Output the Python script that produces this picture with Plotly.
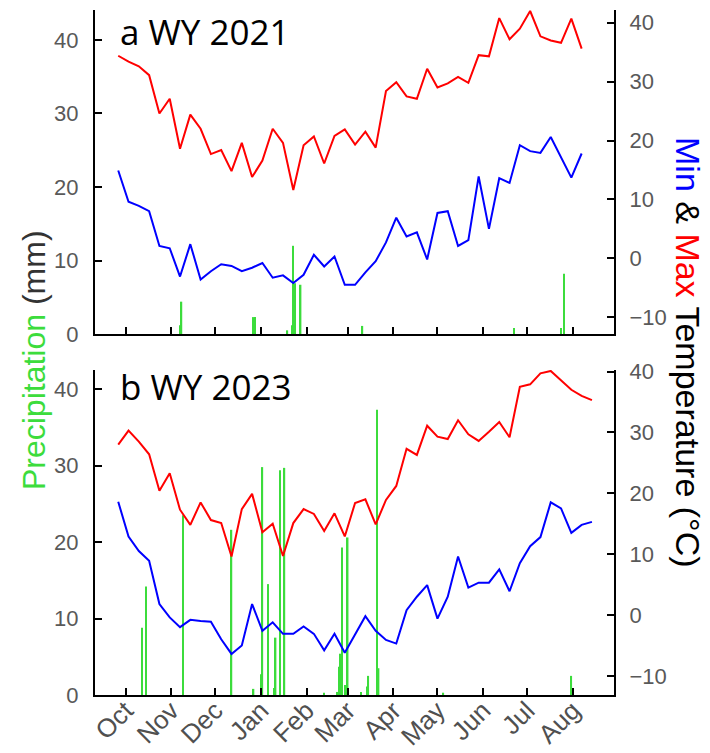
import plotly.graph_objects as go
import pandas as pd

# ---------------- data ----------------
months = ["Oct", "Nov", "Dec", "Jan", "Feb", "Mar", "Apr", "May", "Jun", "Jul", "Aug"]
top_month_ticks = ["2020-10-01", "2020-11-01", "2020-12-01", "2021-01-01", "2021-02-01", "2021-03-01",
                   "2021-04-01", "2021-05-01", "2021-06-01", "2021-07-01", "2021-08-01"]
bot_month_ticks = ["2022-10-01", "2022-11-01", "2022-12-01", "2023-01-01", "2023-02-01", "2023-03-01",
                   "2023-04-01", "2023-05-01", "2023-06-01", "2023-07-01", "2023-08-01"]

# WY 2021 weekly temperatures (deg C)
top_start = "2020-09-26"
top_tmax = [34.4, 33.4, 32.6, 31.1, 24.6, 27.1, 18.6, 24.4, 22.0, 17.7,
            18.4, 14.8, 19.6, 13.8, 16.6, 22.0, 19.6, 11.6, 19.2, 20.7,
            16.1, 20.8, 21.9, 19.3, 21.5, 18.8, 28.4, 29.9, 27.5, 27.1,
            32.2, 29.0, 29.7, 30.8, 29.8, 34.5, 34.3, 40.8, 37.2, 39.0,
            42.0, 37.7, 37.0, 36.6, 40.7, 35.6]
top_tmin = [14.9, 9.6, 8.9, 8.0, 2.1, 1.7, -3.1, 2.4, -3.6, -2.2,
            -1.0, -1.3, -2.2, -1.6, -0.8, -3.3, -2.9, -4.2, -2.8, 0.6,
            -1.4, 0.3, -4.5, -4.5, -2.4, -0.5, 2.7, 6.9, 3.7, 4.4,
            -0.2, 7.7, 8.0, 2.1, 3.1, 13.9, 5.0, 13.6, 12.8, 19.2,
            18.2, 17.9, 20.6, 17.1, 13.7, 17.8]
# WY 2021 daily precipitation (mm)
top_p_dates = ["2020-11-07", "2020-11-08", "2020-12-27", "2020-12-28", "2021-01-19", "2021-01-22",
               "2021-01-23", "2021-01-24", "2021-01-28", "2021-03-11", "2021-06-22", "2021-07-24",
               "2021-07-26"]
top_p_mm = [1.2, 4.4, 2.3, 2.3, 0.5, 1.2, 12.0, 6.9, 6.7, 1.1, 0.8, 0.8, 8.2]

# WY 2023 weekly temperatures (deg C)
bot_start = "2022-09-26"
bot_tmax = [28.0, 30.3, 28.5, 26.4, 20.4, 23.3, 17.3, 14.8, 18.5, 15.6,
            15.1, 9.6, 17.4, 19.9, 13.6, 15.0, 9.7, 15.1, 17.4, 16.6,
            13.8, 16.7, 12.9, 18.4, 19.0, 14.9, 18.9, 21.2, 27.3, 26.3,
            31.1, 29.3, 28.9, 32.0, 29.7, 28.6, 30.1, 31.7, 29.2, 37.5,
            37.9, 39.7, 40.1, 38.6, 37.0, 36.0, 35.3]
bot_tmin = [18.6, 12.9, 10.5, 8.9, 1.8, -0.4, -2.0, -0.8, -1.0, -1.1,
            -4.0, -6.4, -5.0, 1.8, -2.6, -1.2, -3.1, -3.1, -1.9, -3.1,
            -5.8, -3.1, -6.2, -3.3, -0.2, -2.6, -4.1, -4.7, 0.8, 3.0,
            4.9, -0.6, 3.0, 9.6, 4.5, 5.3, 5.3, 7.5, 3.9, 8.5,
            11.3, 12.8, 18.5, 17.5, 13.5, 14.8, 15.3]
# WY 2023 daily precipitation (mm)
bot_p_dates = ["2022-10-12", "2022-10-15", "2022-11-09", "2022-12-12", "2022-12-27", "2023-01-01",
               "2023-01-02", "2023-01-06", "2023-01-10", "2023-01-11", "2023-01-14", "2023-01-17",
               "2023-02-13", "2023-02-22", "2023-02-23", "2023-02-24", "2023-02-25", "2023-02-27",
               "2023-03-01", "2023-03-10", "2023-03-14", "2023-03-15", "2023-03-21", "2023-03-22",
               "2023-05-05", "2023-07-31"]
bot_p_mm = [8.8, 14.2, 23.5, 21.6, 0.8, 2.7, 29.8, 14.5, 0.9, 7.5, 29.4, 29.7,
            0.3, 0.4, 3.7, 5.4, 19.3, 1.3, 20.6, 0.4, 1.1, 2.5, 37.3, 3.5, 0.3, 2.5]

mm_ticks = [0, 10, 20, 30, 40]
t_ticks = [-10, 0, 10, 20, 30, 40]

# ---------------- styling ----------------
GREEN = "#3cdc3c"
DAY_MS = 86400000
TICK_FONT = dict(family="Liberation Sans, Arial, sans-serif", size=22, color="#595959")
MONTH_FONT = dict(family="Liberation Sans, Arial, sans-serif", size=26, color="#505050")

top_dates = pd.date_range(top_start, periods=len(top_tmax), freq="7D")
bot_dates = pd.date_range(bot_start, periods=len(bot_tmax), freq="7D")

fig = go.Figure()
# top panel
fig.add_trace(go.Bar(x=top_p_dates, y=top_p_mm, xaxis="x2", yaxis="y3", width=DAY_MS,
                     marker=dict(color=GREEN, line=dict(width=0))))
fig.add_trace(go.Scatter(x=top_dates, y=top_tmax, xaxis="x2", yaxis="y4", mode="lines",
                         line=dict(color="#ff0000", width=2)))
fig.add_trace(go.Scatter(x=top_dates, y=top_tmin, xaxis="x2", yaxis="y4", mode="lines",
                         line=dict(color="#0000ff", width=2)))
# bottom panel
fig.add_trace(go.Bar(x=bot_p_dates, y=bot_p_mm, xaxis="x", yaxis="y", width=DAY_MS,
                     marker=dict(color=GREEN, line=dict(width=0))))
fig.add_trace(go.Scatter(x=bot_dates, y=bot_tmax, xaxis="x", yaxis="y2", mode="lines",
                         line=dict(color="#ff0000", width=2)))
fig.add_trace(go.Scatter(x=bot_dates, y=bot_tmin, xaxis="x", yaxis="y2", mode="lines",
                         line=dict(color="#0000ff", width=2)))

axis_common = dict(showline=True, linewidth=2, linecolor="black", ticks="inside", ticklen=7,
                   tickwidth=2, tickcolor="black", showgrid=False, zeroline=False,
                   automargin=False)

fig.update_layout(
    width=710, height=753,
    margin=dict(l=95, r=96, t=10, b=58, autoexpand=False),
    paper_bgcolor="white", plot_bgcolor="white",
    showlegend=False, barmode="overlay",
    font=dict(family="Liberation Sans, Arial, sans-serif"),
    xaxis=dict(domain=[0, 1], anchor="y", type="date",
               range=["2022-09-10 05:00", "2023-08-29 00:00"],
               tickvals=bot_month_ticks, ticktext=months, tickangle=-45,
               ticklabelstandoff=-12, tickfont=MONTH_FONT, **axis_common),
    xaxis2=dict(domain=[0, 1], anchor="y3", type="date",
                range=["2020-09-10 05:00", "2021-08-29 00:00"],
                tickvals=top_month_ticks, ticktext=months, showticklabels=False,
                **axis_common),
    yaxis=dict(domain=[0, 0.4745], anchor="x", range=[0, 42.5], tickvals=mm_ticks,
               ticklabelstandoff=10, tickfont=TICK_FONT, **axis_common),
    yaxis2=dict(overlaying="y", side="right", anchor="x", range=[-13.15, 40.26],
                tickvals=t_ticks, ticklabelstandoff=9, tickfont=TICK_FONT, **axis_common),
    yaxis3=dict(domain=[0.527, 1], anchor="x2", range=[0, 44.08], tickvals=mm_ticks,
                ticklabelstandoff=10, tickfont=TICK_FONT, **axis_common),
    yaxis4=dict(overlaying="y3", side="right", anchor="x2", range=[-12.86, 42.17],
                tickvals=t_ticks, ticklabelstandoff=9, tickfont=TICK_FONT, **axis_common),
)

LABEL_FONT = dict(family="Open Sans, sans-serif", size=35, color="black")
fig.add_annotation(text="a WY 2021", xref="paper", yref="paper", x=0.044, y=0.968,
                   xanchor="left", yanchor="middle", showarrow=False, font=LABEL_FONT)
fig.add_annotation(text="b WY 2023", xref="paper", yref="paper", x=0.044, y=0.45,
                   xanchor="left", yanchor="middle", showarrow=False, font=LABEL_FONT)
fig.add_annotation(text=f'<span style="color:{GREEN}">Precipitation</span> <span style="color:#333333">(mm)</span>',
                   xref="paper", yref="paper", x=-0.1175, y=0.489, textangle=-90,
                   xanchor="center", yanchor="middle", showarrow=False,
                   font=dict(family="Liberation Sans, Arial, sans-serif", size=32, color="black"))
fig.add_annotation(text='<span style="color:#0000ff">Min</span> &amp; <span style="color:#ff0000">Max</span> Temperature (°C)',
                   xref="paper", yref="paper", x=1.1426, y=0.5007, textangle=90,
                   xanchor="center", yanchor="middle", showarrow=False,
                   font=dict(family="Liberation Sans, Arial, sans-serif", size=34, color="black"))

fig.write_html("out.html")
